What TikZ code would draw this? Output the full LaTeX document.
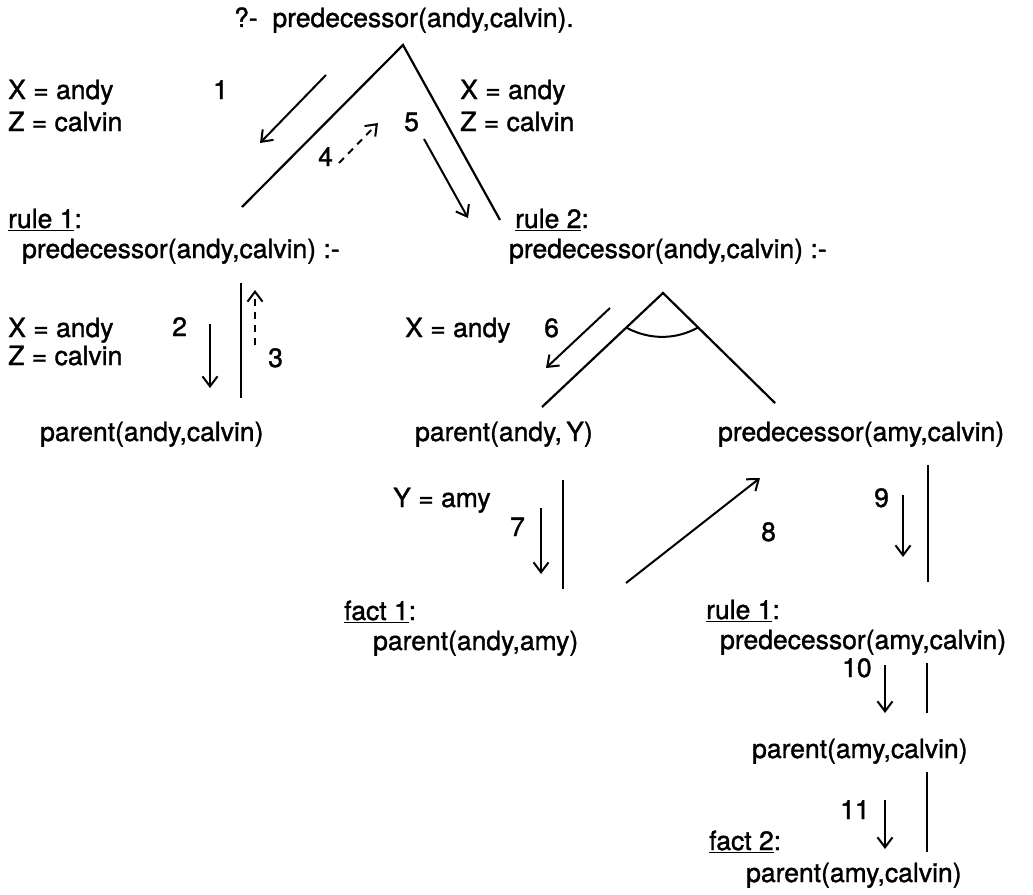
\documentclass[tikz,border=0pt]{standalone}
\usepackage{fontspec}
\setmainfont{TeX Gyre Heros}[FakeBold=1.3]
\usetikzlibrary{arrows.meta}

\begin{document}
\begin{tikzpicture}[x=1pt, y=-1pt,
    txt/.style={anchor=base west, inner sep=0pt, font=\fontsize{26.5}{30}\selectfont},
    branch/.style={line width=2.2pt},
    move/.style={line width=2pt, -{Straight Barb[length=10pt,width=15pt,line width=2pt]}},
    redo/.style={move, dash pattern=on 7pt off 6pt}]

    \useasboundingbox (0,0) rectangle (1033,894);

    % Query and first choice of clause
    \node[txt] (query) at (234,27) {?-\ \ predecessor(andy,calvin).};
    \coordinate (top) at (403,45);
    \coordinate (topL) at (242,207);
    \coordinate (topR) at (500,220);
    \draw[branch] (topL) -- (top) -- (topR);

    \node[txt] (xa1) at (8,99) {X = andy};
    \node[txt] (zc1) at (8,131) {Z = calvin};
    \node[txt] (xa2) at (460,99) {X = andy};
    \node[txt] (zc2) at (460,131) {Z = calvin};

    % Steps 1, 4, 5
    \coordinate (s1a) at (326,75);  \coordinate (s1b) at (260,143);
    \coordinate (s4a) at (339,163); \coordinate (s4b) at (378,123);
    \coordinate (s5a) at (424,139); \coordinate (s5b) at (468,218);
    \draw[move] (s1a) -- (s1b);
    \draw[redo] (s4a) -- (s4b);
    \draw[move] (s5a) -- (s5b);
    \node[txt] (n1) at (213,99) {1};
    \node[txt] (n4) at (318,166) {4};
    \node[txt] (n5) at (404,131) {5};

    % Rule 1 branch (fails)
    \node[txt] (r1) at (8,228) {\underline{rule 1}:};
    \node[txt] (r1h) at (22,258) {predecessor(andy,calvin) :-};
    \node[txt] (xa3) at (8,337) {X = andy};
    \node[txt] (zc3) at (8,365) {Z = calvin};
    \node[txt] (r1b) at (40,441) {parent(andy,calvin)};
    \coordinate (r1t) at (241,283); \coordinate (r1e) at (241,398);
    \draw[branch] (r1t) -- (r1e);
    \coordinate (s2a) at (210,324); \coordinate (s2b) at (210,388);
    \coordinate (s3a) at (255,345); \coordinate (s3b) at (255,290);
    \draw[move] (s2a) -- (s2b);
    \draw[redo] (s3a) -- (s3b);
    \node[txt] (n2) at (172,336) {2};
    \node[txt] (n3) at (268,367) {3};

    % Rule 2 branch: conjunction of two goals
    \node[txt] (r2) at (515,228) {\underline{rule 2}:};
    \node[txt] (r2h) at (509,258) {predecessor(andy,calvin) :-};
    \coordinate (and) at (663,293);
    \coordinate (andL) at (542,407);
    \coordinate (andR) at (775,403);
    \draw[branch] (andL) -- (and) -- (andR);
    \draw[line width=2pt] (627,328) .. controls (650,340) and (676,340) .. (699,327);
    \coordinate (s6a) at (610,308); \coordinate (s6b) at (546,368);
    \draw[move] (s6a) -- (s6b);
    \node[txt] (n6) at (544,337) {6};
    \node[txt] (xa4) at (405,337) {X = andy};
    \node[txt] (g1) at (415,441) {parent(andy,\,Y)};
    \node[txt] (g2) at (718,441) {predecessor(amy,calvin)};

    % First goal against fact 1
    \node[txt] (ya) at (393,507) {Y = amy};
    \coordinate (g1t) at (563,480); \coordinate (g1e) at (563,589);
    \draw[branch] (g1t) -- (g1e);
    \coordinate (s7a) at (541,508); \coordinate (s7b) at (541,574);
    \draw[move] (s7a) -- (s7b);
    \node[txt] (n7) at (510,536) {7};
    \node[txt] (f1) at (344,620) {\underline{fact 1}:};
    \node[txt] (f1h) at (373,650) {parent(andy,amy)};

    % Step 8 over to second goal
    \coordinate (s8a) at (626,583); \coordinate (s8b) at (760,478);
    \draw[move] (s8a) -- (s8b);
    \node[txt] (n8) at (761,541) {8};

    % Second goal: rule 1 then fact 2
    \coordinate (g2t) at (928,465); \coordinate (g2e) at (928,582);
    \draw[branch] (g2t) -- (g2e);
    \coordinate (s9a) at (903,495); \coordinate (s9b) at (903,557);
    \draw[move] (s9a) -- (s9b);
    \node[txt] (n9) at (874,507) {9};
    \node[txt] (r3) at (706,619) {\underline{rule 1}:};
    \node[txt] (r3h) at (720,649) {predecessor(amy,calvin)};

    \coordinate (r3t) at (927,663); \coordinate (r3e) at (927,713);
    \draw[branch] (r3t) -- (r3e);
    \coordinate (s10a) at (885,665); \coordinate (s10b) at (885,713);
    \draw[move] (s10a) -- (s10b);
    \node[txt] (n10) at (842,677) {10};
    \node[txt] (g3) at (752,758) {parent(amy,calvin)};

    \coordinate (g3t) at (927,772); \coordinate (g3e) at (927,852);
    \draw[branch] (g3t) -- (g3e);
    \coordinate (s11a) at (885,800); \coordinate (s11b) at (885,849);
    \draw[move] (s11a) -- (s11b);
    \node[txt] (n11) at (840,819) {11};
    \node[txt] (f2) at (709,850) {\underline{fact 2}:};
    \node[txt] (f2h) at (746,882) {parent(amy,calvin)};

\end{tikzpicture}
\end{document}
